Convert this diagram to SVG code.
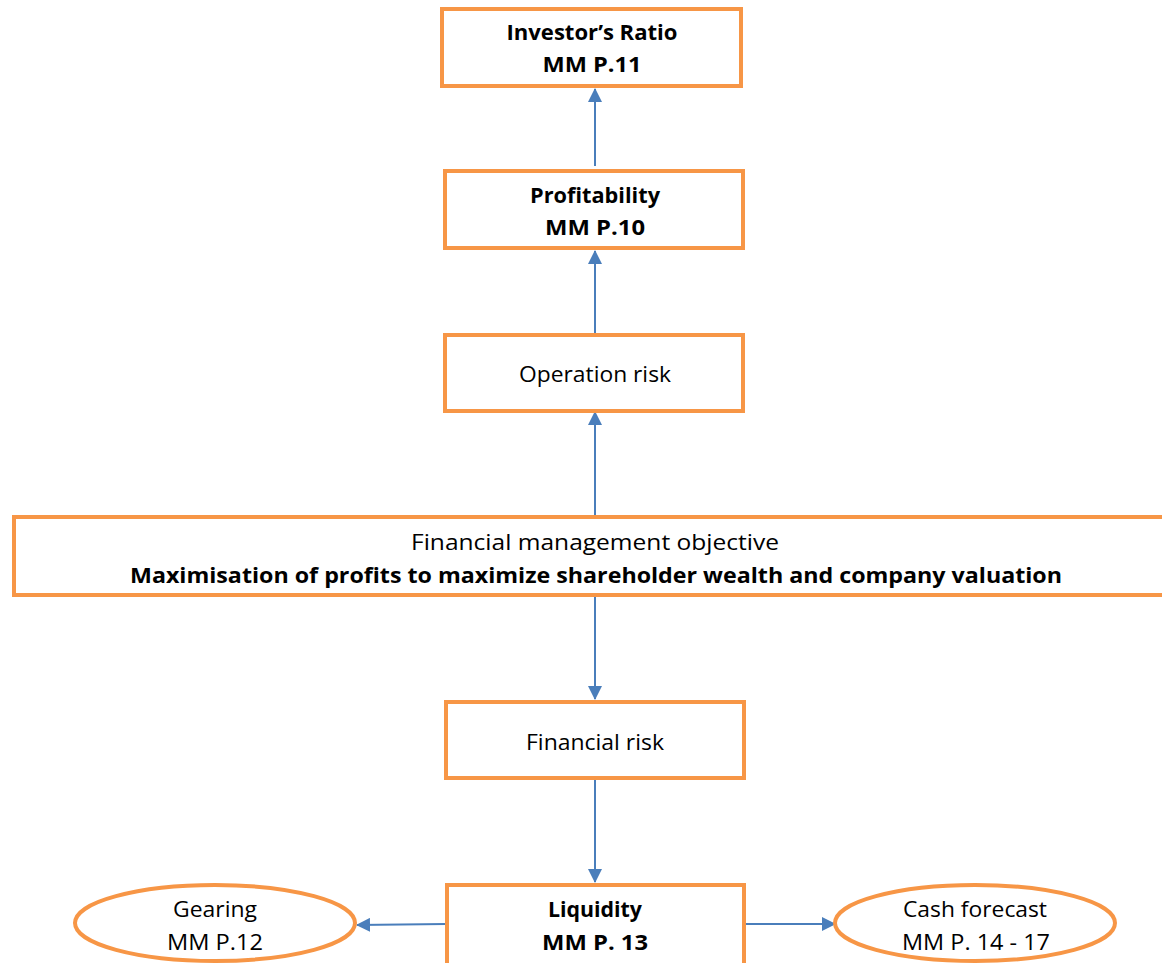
<svg xmlns="http://www.w3.org/2000/svg" width="1162" height="963" viewBox="0 0 1162 963">
<defs>
<marker id="ah" markerWidth="14" markerHeight="14" refX="13" refY="7" orient="auto" markerUnits="userSpaceOnUse">
<path d="M0,0 L14,7 L0,14 Z" fill="#4a7ebb"/>
</marker>
<style>
.box{fill:#fff;stroke:#f79646;stroke-width:4}
.t{font-family:"Open Sans","Liberation Sans",Arial,sans-serif;font-size:22px;fill:#000;text-anchor:middle}
.b{font-weight:bold}
.c{stroke:#4a7ebb;stroke-width:2;fill:none;marker-end:url(#ah)}
</style>
</defs>
<rect width="1162" height="963" fill="#fff"/>
<g id="connectors">
<line class="c" x1="595" y1="166" x2="595" y2="89"/>
<line class="c" x1="595" y1="333" x2="595" y2="251"/>
<line class="c" x1="595" y1="515" x2="595" y2="412"/>
<line class="c" x1="595" y1="597" x2="595" y2="699"/>
<line class="c" x1="595" y1="780" x2="595" y2="882"/>
<line class="c" x1="446" y1="924" x2="357" y2="925"/>
<line class="c" x1="746" y1="924" x2="835" y2="924"/>
</g>
<g id="investor">
<rect class="box" x="442" y="9" width="299" height="77"/>
<text class="t b" x="592" y="40" textLength="171" lengthAdjust="spacingAndGlyphs">Investor’s Ratio</text>
<text class="t b" x="592" y="72" textLength="99" lengthAdjust="spacingAndGlyphs">MM P.11</text>
</g>
<g id="profitability">
<rect class="box" x="445" y="171" width="298" height="77"/>
<text class="t b" x="595" y="203" textLength="130" lengthAdjust="spacingAndGlyphs">Profitability</text>
<text class="t b" x="595" y="235" textLength="100" lengthAdjust="spacingAndGlyphs">MM P.10</text>
</g>
<g id="operation">
<rect class="box" x="445" y="335" width="298" height="76"/>
<text class="t" x="595" y="382" textLength="152" lengthAdjust="spacingAndGlyphs">Operation risk</text>
</g>
<g id="objective">
<rect class="box" x="14" y="517" width="1160" height="78"/>
<text class="t" x="595" y="550" textLength="368" lengthAdjust="spacingAndGlyphs">Financial management objective</text>
<text class="t b" x="596" y="583" textLength="932" lengthAdjust="spacingAndGlyphs">Maximisation of profits to maximize shareholder wealth and company valuation</text>
</g>
<g id="financial">
<rect class="box" x="446" y="702" width="298" height="76"/>
<text class="t" x="595" y="750" textLength="138" lengthAdjust="spacingAndGlyphs">Financial risk</text>
</g>
<g id="liquidity">
<rect class="box" x="447" y="885" width="297" height="90"/>
<text class="t b" x="595" y="917" textLength="94" lengthAdjust="spacingAndGlyphs">Liquidity</text>
<text class="t b" x="595" y="950" textLength="106" lengthAdjust="spacingAndGlyphs">MM P. 13</text>
</g>
<g id="gearing">
<ellipse class="box" cx="215" cy="923" rx="140" ry="38"/>
<text class="t" x="215" y="917" textLength="84" lengthAdjust="spacingAndGlyphs">Gearing</text>
<text class="t" x="215" y="950" textLength="96" lengthAdjust="spacingAndGlyphs">MM P.12</text>
</g>
<g id="cash">
<ellipse class="box" cx="975" cy="923" rx="140" ry="38"/>
<text class="t" x="975" y="917" textLength="144" lengthAdjust="spacingAndGlyphs">Cash forecast</text>
<text class="t" x="976" y="950" textLength="148" lengthAdjust="spacingAndGlyphs">MM P. 14 - 17</text>
</g>
</svg>
